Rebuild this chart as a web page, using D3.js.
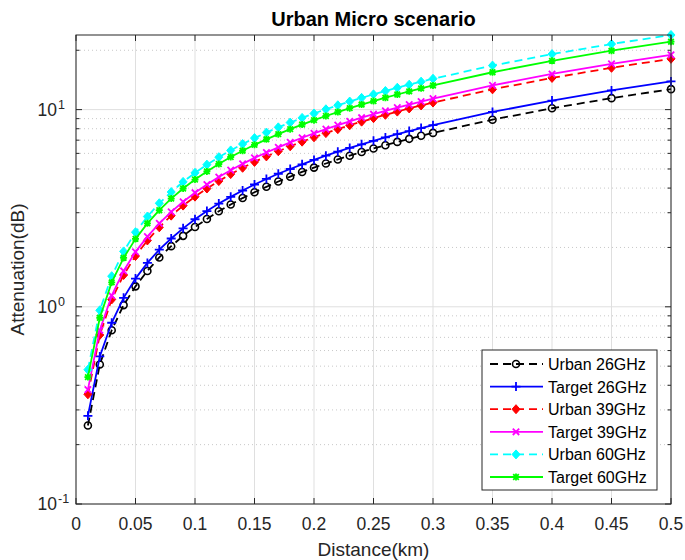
<!DOCTYPE html>
<html>
<head>
<meta charset="utf-8">
<script src="https://cdn.jsdelivr.net/npm/d3@7/dist/d3.min.js"></script>
<style>
  body { margin: 0; background: #fff; }
  text { font-family: "Liberation Sans", Arial, sans-serif; fill: #262626; }
</style>
</head>
<body>
<div id="chart"></div>
<script>
// distance in km
var distance = [0.01, 0.02, 0.03, 0.04, 0.05, 0.06, 0.07, 0.08, 0.09, 0.10,
  0.11, 0.12, 0.13, 0.14, 0.15, 0.16, 0.17, 0.18, 0.19, 0.20,
  0.21, 0.22, 0.23, 0.24, 0.25, 0.26, 0.27, 0.28, 0.29, 0.30,
  0.35, 0.40, 0.45, 0.50];

// attenuation in dB
var urban26 = [0.25, 0.51, 0.76, 1.02, 1.27, 1.52, 1.78, 2.03, 2.29, 2.54,
  2.79, 3.05, 3.30, 3.56, 3.81, 4.06, 4.32, 4.57, 4.83, 5.08,
  5.33, 5.59, 5.84, 6.10, 6.35, 6.60, 6.86, 7.11, 7.37, 7.62,
  8.89, 10.16, 11.43, 12.70];
var target26 = [0.28, 0.56, 0.83, 1.11, 1.39, 1.67, 1.95, 2.22, 2.50, 2.78,
  3.06, 3.34, 3.61, 3.89, 4.17, 4.45, 4.73, 5.00, 5.28, 5.56,
  5.84, 6.12, 6.39, 6.67, 6.95, 7.23, 7.51, 7.78, 8.06, 8.34,
  9.73, 11.12, 12.51, 13.90];
var urban39 = [0.36, 0.72, 1.09, 1.45, 1.81, 2.17, 2.53, 2.90, 3.26, 3.62,
  3.98, 4.34, 4.71, 5.07, 5.43, 5.79, 6.15, 6.52, 6.88, 7.24,
  7.60, 7.96, 8.33, 8.69, 9.05, 9.41, 9.77, 10.14, 10.50, 10.86,
  12.67, 14.48, 16.29, 18.10];
var target39 = [0.38, 0.76, 1.14, 1.52, 1.90, 2.27, 2.65, 3.03, 3.41, 3.79,
  4.17, 4.55, 4.93, 5.31, 5.69, 6.06, 6.44, 6.82, 7.20, 7.58,
  7.96, 8.34, 8.72, 9.10, 9.48, 9.85, 10.23, 10.61, 10.99, 11.37,
  13.27, 15.16, 17.06, 18.95];
var urban60 = [0.48, 0.96, 1.43, 1.91, 2.39, 2.87, 3.35, 3.82, 4.30, 4.78,
  5.26, 5.74, 6.21, 6.69, 7.17, 7.65, 8.13, 8.60, 9.08, 9.56,
  10.04, 10.52, 10.99, 11.47, 11.95, 12.43, 12.91, 13.38, 13.86, 14.34,
  16.73, 19.12, 21.51, 23.90];
var target60 = [0.44, 0.88, 1.33, 1.77, 2.21, 2.65, 3.09, 3.54, 3.98, 4.42,
  4.86, 5.30, 5.75, 6.19, 6.63, 7.07, 7.51, 7.96, 8.40, 8.84,
  9.28, 9.72, 10.17, 10.61, 11.05, 11.49, 11.93, 12.38, 12.82, 13.26,
  15.47, 17.68, 19.89, 22.10];

var seriesNames = ["Urban 26GHz", "Target 26GHz", "Urban 39GHz",
  "Target 39GHz", "Urban 60GHz", "Target 60GHz"];
var xTicks = [0, 0.05, 0.1, 0.15, 0.2, 0.25, 0.3, 0.35, 0.4, 0.45, 0.5];
var xTickLabels = ["0", "0.05", "0.1", "0.15", "0.2", "0.25", "0.3",
  "0.35", "0.4", "0.45", "0.5"];
var yTicks = [0.1, 1, 10];
var yTickExponents = ["-1", "0", "1"];

var series = [
  {name: seriesNames[0], values: urban26, color: "#000000", dash: "8,5", marker: "circle"},
  {name: seriesNames[1], values: target26, color: "#0000ff", dash: null, marker: "plus"},
  {name: seriesNames[2], values: urban39, color: "#ff0000", dash: "8,5", marker: "diamond"},
  {name: seriesNames[3], values: target39, color: "#ff00ff", dash: null, marker: "x"},
  {name: seriesNames[4], values: urban60, color: "#00ffff", dash: "8,5", marker: "diamond"},
  {name: seriesNames[5], values: target60, color: "#00ff00", dash: null, marker: "star"}
];

var width = 685, height = 560;
var margin = {top: 35, right: 14, bottom: 56, left: 76};
var axisColor = "#262626";

var svg = d3.select("#chart").append("svg")
    .attr("width", width)
    .attr("height", height);

var x = d3.scaleLinear().domain([0, 0.5])
    .range([margin.left, width - margin.right]);
var y = d3.scaleLog().domain([0.1, 23.9])
    .range([height - margin.bottom, margin.top]);

var x0 = x.range()[0], x1 = x.range()[1];
var y0 = y.range()[0], y1 = y.range()[1];

// minor y positions (2..9 per decade)
var yMinor = [];
[0.1, 1, 10].forEach(function(base) {
  for (var k = 2; k <= 9; k++) {
    var v = base * k;
    if (v <= y.domain()[1]) yMinor.push(v);
  }
});

// grid
var grid = svg.append("g");
grid.selectAll("line.minor").data(yMinor).enter().append("line")
    .attr("x1", x0).attr("x2", x1)
    .attr("y1", function(d) { return y(d); })
    .attr("y2", function(d) { return y(d); })
    .attr("stroke", "#c8c8c8").attr("stroke-width", 1)
    .attr("stroke-dasharray", "1,3");
grid.selectAll("line.vx").data(xTicks).enter().append("line")
    .attr("x1", function(d) { return x(d); })
    .attr("x2", function(d) { return x(d); })
    .attr("y1", y0).attr("y2", y1)
    .attr("stroke", "#dfdfdf").attr("stroke-width", 1);
grid.selectAll("line.hy").data(yTicks).enter().append("line")
    .attr("x1", x0).attr("x2", x1)
    .attr("y1", function(d) { return y(d); })
    .attr("y2", function(d) { return y(d); })
    .attr("stroke", "#dfdfdf").attr("stroke-width", 1);

// series
var markerPath = {
  plus: "M-4.5,0H4.5M0,-4.5V4.5",
  x: "M-3.2,-3.2L3.2,3.2M-3.2,3.2L3.2,-3.2",
  star: "M-3.5,0H3.5M0,-3.5V3.5M-2.8,-2.8L2.8,2.8M-2.8,2.8L2.8,-2.8"
};

var drawMarker = function(sel, s) {
  if (s.marker == "circle") {
    sel.append("circle").attr("r", 3.5)
        .attr("fill", "none").attr("stroke", s.color).attr("stroke-width", 1.6);
  } else if (s.marker == "diamond") {
    sel.append("path").attr("d", "M0,-4.5L4,0L0,4.5L-4,0Z")
        .attr("fill", s.color).attr("stroke", s.color).attr("stroke-width", 1);
  } else {
    sel.append("path").attr("d", markerPath[s.marker])
        .attr("fill", "none").attr("stroke", s.color).attr("stroke-width", 1.8);
  }
};

var line = d3.line()
    .x(function(d, i) { return x(distance[i]); })
    .y(function(d) { return y(d); });

series.forEach(function(s) {
  var g = svg.append("g");
  g.append("path")
      .attr("d", line(s.values))
      .attr("fill", "none")
      .attr("stroke", s.color)
      .attr("stroke-width", 1.8)
      .attr("stroke-dasharray", s.dash);
  g.selectAll("g.mk").data(s.values).enter().append("g")
      .attr("transform", function(d, i) {
        return "translate(" + x(distance[i]) + "," + y(d) + ")";
      })
      .each(function() { drawMarker(d3.select(this), s); });
});

// axes box and ticks
var axes = svg.append("g").attr("stroke", axisColor).attr("stroke-width", 1);
axes.append("rect")
    .attr("x", x0).attr("y", y1)
    .attr("width", x1 - x0).attr("height", y0 - y1)
    .attr("fill", "none");
xTicks.forEach(function(t) {
  axes.append("line").attr("x1", x(t)).attr("x2", x(t)).attr("y1", y0).attr("y2", y0 - 6);
  axes.append("line").attr("x1", x(t)).attr("x2", x(t)).attr("y1", y1).attr("y2", y1 + 6);
});
yTicks.forEach(function(t) {
  axes.append("line").attr("x1", x0).attr("x2", x0 + 6).attr("y1", y(t)).attr("y2", y(t));
  axes.append("line").attr("x1", x1).attr("x2", x1 - 6).attr("y1", y(t)).attr("y2", y(t));
});
yMinor.forEach(function(t) {
  axes.append("line").attr("x1", x0).attr("x2", x0 + 3.5).attr("y1", y(t)).attr("y2", y(t));
  axes.append("line").attr("x1", x1).attr("x2", x1 - 3.5).attr("y1", y(t)).attr("y2", y(t));
});

// tick labels
svg.selectAll("text.xt").data(xTicks).enter().append("text")
    .attr("x", function(d) { return x(d); })
    .attr("y", y0 + 26)
    .attr("text-anchor", "middle")
    .attr("font-size", 17.5)
    .text(function(d, i) { return xTickLabels[i]; });

yTicks.forEach(function(t, i) {
  var txt = svg.append("text")
      .attr("x", x0 - 19)
      .attr("y", y(t) + 6)
      .attr("text-anchor", "end")
      .attr("font-size", 17.5);
  txt.append("tspan").text("10");
  svg.append("text")
      .attr("x", x0 - 18)
      .attr("y", y(t) - 1)
      .attr("font-size", 12.5)
      .text(yTickExponents[i]);
});

// axis labels and title
svg.append("text")
    .attr("x", (x0 + x1) / 2).attr("y", 556)
    .attr("text-anchor", "middle").attr("font-size", 19)
    .text("Distance(km)");
svg.append("text")
    .attr("transform", "translate(24," + (y0 + y1) / 2 + ") rotate(-90)")
    .attr("text-anchor", "middle").attr("font-size", 19)
    .text("Attenuation(dB)");
svg.append("text")
    .attr("x", (x0 + x1) / 2).attr("y", 26)
    .attr("text-anchor", "middle").attr("font-size", 20)
    .attr("font-weight", "bold").style("fill", "#000")
    .text("Urban Micro scenario");

// legend
var legend = svg.append("g");
legend.append("rect")
    .attr("x", 482).attr("y", 350).attr("width", 175).attr("height", 140)
    .attr("fill", "#fff").attr("stroke", axisColor).attr("stroke-width", 1);
series.forEach(function(s, i) {
  var ly = 364 + i * 22.6;
  var row = legend.append("g");
  row.append("line")
      .attr("x1", 490).attr("x2", 543).attr("y1", ly).attr("y2", ly)
      .attr("stroke", s.color).attr("stroke-width", 1.8)
      .attr("stroke-dasharray", s.dash);
  drawMarker(row.append("g").attr("transform", "translate(516," + ly + ")"), s);
  row.append("text")
      .attr("x", 548).attr("y", ly + 6)
      .attr("font-size", 16)
      .style("fill", "#000")
      .text(s.name);
});
</script>
</body>
</html>
